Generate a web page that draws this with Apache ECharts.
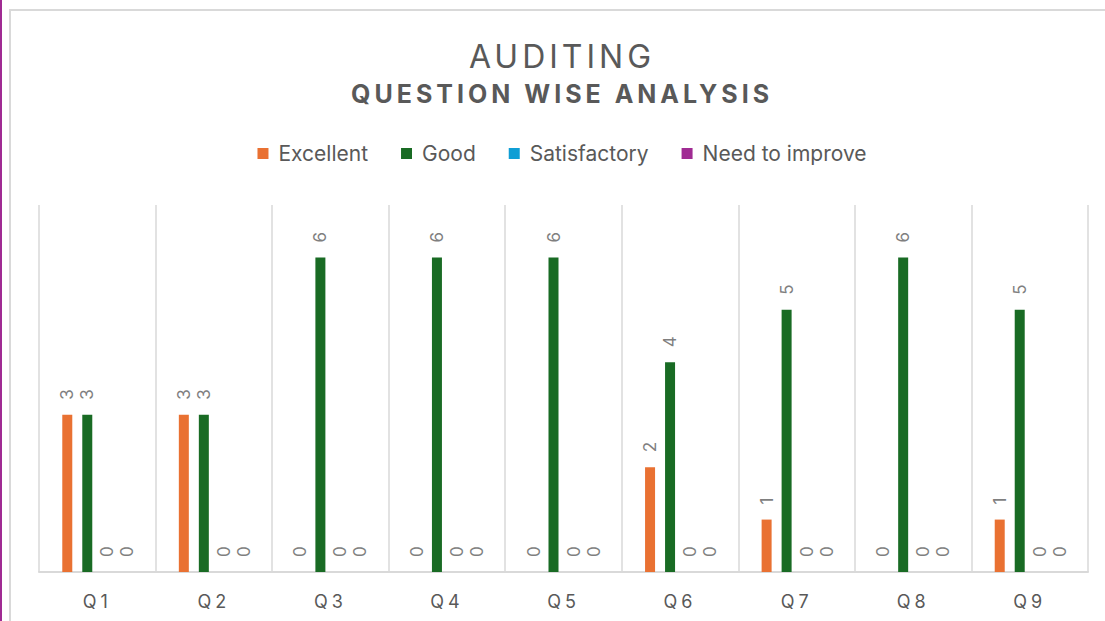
<!DOCTYPE html>
<html>
<head>
<meta charset="utf-8">
<script src="https://cdn.jsdelivr.net/npm/echarts@6/dist/echarts.min.js"></script>
<style>
    html, body { margin: 0; padding: 0; background: #ffffff; overflow: hidden; }
    #edge { position: absolute; left: 0; top: 0; width: 2px; height: 621px; background: #a02b93; }
    #chart {
        position: absolute; left: 9px; top: 9px; width: 1102px; height: 610px;
        border-left: 2px solid #d9d9d9; border-top: 2px solid #d9d9d9;
    }
</style>
</head>
<body>
<div id="edge"></div>
<div id="chart"></div>
<script>
// 数据
var questions = ['Q1', 'Q2', 'Q3', 'Q4', 'Q5', 'Q6', 'Q7', 'Q8', 'Q9'];
var excellent = [3, 3, 0, 0, 0, 2, 1, 0, 1];
var good = [3, 3, 6, 6, 6, 4, 5, 6, 5];
var satisfactory = [0, 0, 0, 0, 0, 0, 0, 0, 0];
var needImprove = [0, 0, 0, 0, 0, 0, 0, 0, 0];

var FONT = 'Inter, "Liberation Sans", sans-serif';
var GREY = '#595959';

function makeSeries(name, data, color) {
    return {
        name: name,
        type: 'bar',
        data: data,
        barWidth: 10,
        barGap: '100%',
        itemStyle: { color: color },
        label: {
            show: true,
            position: 'top',
            distance: 15,
            rotate: 90,
            align: 'left',
            verticalAlign: 'middle',
            color: '#7f7f7f',
            fontSize: 17,
            fontFamily: FONT
        }
    };
}

var chart = echarts.init(document.getElementById('chart'), null, { renderer: 'svg' });

var option = {
    backgroundColor: '#ffffff',
    animation: false,
    title: [{
        text: 'AUDITING',
        left: 'center',
        top: 24,
        textStyle: { color: GREY, fontSize: 32, fontWeight: 'normal', fontFamily: FONT }
    }, {
        text: 'QUESTION WISE ANALYSIS',
        left: 'center',
        top: 65,
        textStyle: { color: GREY, fontSize: 25, fontWeight: 'bold', fontFamily: FONT }
    }],
    legend: {
        data: ['Excellent', 'Good', 'Satisfactory', 'Need to improve'],
        left: 'center',
        top: 127,
        icon: 'rect',
        itemWidth: 11,
        itemHeight: 11,
        itemGap: 33,
        textStyle: { color: GREY, fontSize: 21, fontFamily: FONT, padding: [0, 0, 0, 5] }
    },
    grid: {
        left: 28,
        right: 25,
        top: 194,
        bottom: 49
    },
    xAxis: {
        type: 'category',
        data: questions,
        axisLine: { lineStyle: { color: '#d9d9d9', width: 2 } },
        axisTick: { show: false },
        axisLabel: { color: GREY, fontSize: 18, fontFamily: FONT, margin: 20 },
        splitLine: { show: true, lineStyle: { color: '#d9d9d9', width: 1.5 } }
    },
    yAxis: {
        type: 'value',
        min: 0,
        max: 7,
        interval: 1,
        show: false,
        splitLine: { show: false }
    },
    series: [
        makeSeries('Excellent', excellent, '#e97132'),
        makeSeries('Good', good, '#196b24'),
        makeSeries('Satisfactory', satisfactory, '#0f9ed5'),
        makeSeries('Need to improve', needImprove, '#a02b93')
    ]
};

chart.setOption(option);

// 标题和轴标签的字间距（Excel 风格）
var spacing = { 'AUDITING': '4px', 'QUESTION WISE ANALYSIS': '4px' };
var texts = document.querySelectorAll('#chart svg text');
for (var i = 0; i < texts.length; i++) {
    var t = texts[i].textContent;
    if (spacing[t]) {
        texts[i].style.letterSpacing = spacing[t];
    } else if (questions.indexOf(t) >= 0) {
        texts[i].style.letterSpacing = '4px';
    }
}
</script>
</body>
</html>
